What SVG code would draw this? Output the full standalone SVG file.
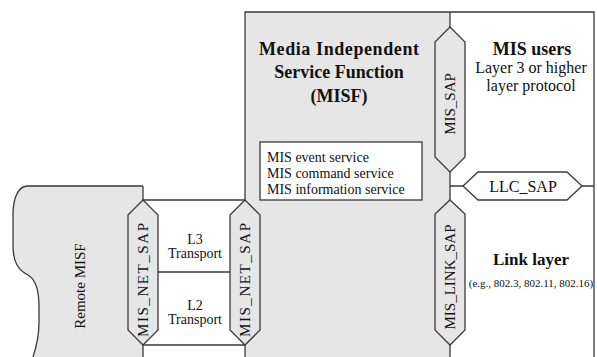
<svg xmlns="http://www.w3.org/2000/svg" width="597" height="357" viewBox="0 0 597 357" font-family="Times New Roman, Liberation Serif, serif">
  <style>
    .ln { fill: none; stroke: #3a3a3a; stroke-width: 1.3; }
    .grey { fill: #e6e6e6; }
    .sap { fill: #e6e6e6; stroke: #3a3a3a; stroke-width: 1.3; }
    .sapw { fill: #ffffff; stroke: #3a3a3a; stroke-width: 1.3; }
  </style>
  <rect width="597" height="357" fill="#ffffff"/>

  <!-- Remote MISF -->
  <g id="remote-misf">
    <path class="grey" d="M143 186 H28 C18 186 13 198 13 215 L13 245 C13 262 18 270 28 275 C36 280 39 290 39 308 L39 322 C39 338 36 348 33 357 H143 Z"/>
    <path class="ln" d="M143 186 H28 C18 186 13 198 13 215 L13 245 C13 262 18 270 28 275 C36 280 39 290 39 308 L39 322 C39 338 36 348 33 357"/>
    <text font-family="Times New Roman" font-size="15" text-anchor="middle" fill="#111" transform="translate(85 286) rotate(-90)">Remote MISF</text>
  </g>

  <!-- MISF box -->
  <g id="misf">
    <rect class="grey" x="245" y="12" width="205" height="345"/>
    <text font-family="Times New Roman" font-size="18" font-weight="bold" text-anchor="middle" fill="#111" x="339" y="55" textLength="160" lengthAdjust="spacing">Media Independent</text>
    <text font-family="Times New Roman" font-size="18" font-weight="bold" text-anchor="middle" fill="#111" x="339" y="78">Service Function</text>
    <text font-family="Times New Roman" font-size="18" font-weight="bold" text-anchor="middle" fill="#111" x="339" y="102">(MISF)</text>
  </g>

  <!-- service list -->
  <g id="services">
    <rect x="260" y="142" width="162" height="58" fill="#ffffff" stroke="#3a3a3a" stroke-width="1.3"/>
    <text font-family="Times New Roman" font-size="14" fill="#111" x="267" y="162">MIS event service</text>
    <text font-family="Times New Roman" font-size="14" fill="#111" x="267" y="178">MIS command service</text>
    <text font-family="Times New Roman" font-size="14" fill="#111" x="267" y="194">MIS information service</text>
  </g>

  <!-- transport column -->
  <g id="transport">
    <rect x="143" y="200" width="102" height="157" fill="#ffffff"/>
    <text font-family="Times New Roman" font-size="14" fill="#111" x="195" y="244" text-anchor="middle">L3</text>
    <text font-family="Times New Roman" font-size="14" fill="#111" x="195" y="258" text-anchor="middle">Transport</text>
    <text font-family="Times New Roman" font-size="14" fill="#111" x="195" y="310" text-anchor="middle">L2</text>
    <text font-family="Times New Roman" font-size="14" fill="#111" x="195" y="324" text-anchor="middle">Transport</text>
  </g>

  <!-- MIS users / link layer labels -->
  <g id="mis-users">
    <text font-family="Times New Roman" font-size="18" font-weight="bold" text-anchor="middle" fill="#111" x="532" y="55">MIS users</text>
    <text font-family="Times New Roman" font-size="16" text-anchor="middle" fill="#111" x="531" y="73">Layer 3 or higher</text>
    <text font-family="Times New Roman" font-size="16" text-anchor="middle" fill="#111" x="531" y="91">layer protocol</text>
  </g>
  <g id="link-layer">
    <text font-family="Times New Roman" font-size="17" font-weight="bold" text-anchor="middle" fill="#111" x="531" y="265">Link layer</text>
    <text font-family="Times New Roman" font-size="11" text-anchor="middle" fill="#111" x="531" y="287">(e.g., 802.3, 802.11, 802.16)</text>
  </g>

  <!-- connectors and borders -->
  <g id="connectors">
    <path class="ln" d="M245 200 V12 H594 V357"/>
    <path class="ln" d="M143 186 V200 H245"/>
    <path class="ln" d="M143 272 H245"/>
    <path class="ln" d="M143 345 H245 M143 345 V357 M245 345 V357"/>
    <path class="ln" d="M450 12 V27 M450 172 V200 M450 345 V357 M450 186 H463 M582 186 H594"/>
  </g>

  <!-- SAP hexagons -->
  <g id="mis-net-sap-remote">
    <path class="sap" d="M143 200 L158 215 V330 L143 345 L128 330 V215 Z"/>
    <text font-family="Times New Roman" font-size="15" text-anchor="middle" fill="#111" transform="translate(148 280) rotate(-90)" textLength="114" lengthAdjust="spacing">MIS_NET_SAP</text>
  </g>
  <g id="mis-net-sap-local">
    <path class="sap" d="M245 200 L260 215 V330 L245 345 L230 330 V215 Z"/>
    <text font-family="Times New Roman" font-size="15" text-anchor="middle" fill="#111" transform="translate(250 280) rotate(-90)" textLength="114" lengthAdjust="spacing">MIS_NET_SAP</text>
  </g>
  <g id="mis-sap">
    <path class="sap" d="M450 27 L465 42 V157 L450 172 L435 157 V42 Z"/>
    <text font-family="Times New Roman" font-size="15" text-anchor="middle" fill="#111" transform="translate(455 104) rotate(-90)">MIS_SAP</text>
  </g>
  <g id="mis-link-sap">
    <path class="sap" d="M450 200 L465 214 V330 L450 345 L435 330 V214 Z"/>
    <text font-family="Times New Roman" font-size="15" text-anchor="middle" fill="#111" transform="translate(455 277) rotate(-90)">MIS_LINK_SAP</text>
  </g>
  <g id="llc-sap">
    <path class="sapw" d="M463 186 L478 172 H567 L582 186 L567 200 H478 Z"/>
    <text font-family="Times New Roman" font-size="16" text-anchor="middle" fill="#111" x="523" y="192">LLC_SAP</text>
  </g>
</svg>
